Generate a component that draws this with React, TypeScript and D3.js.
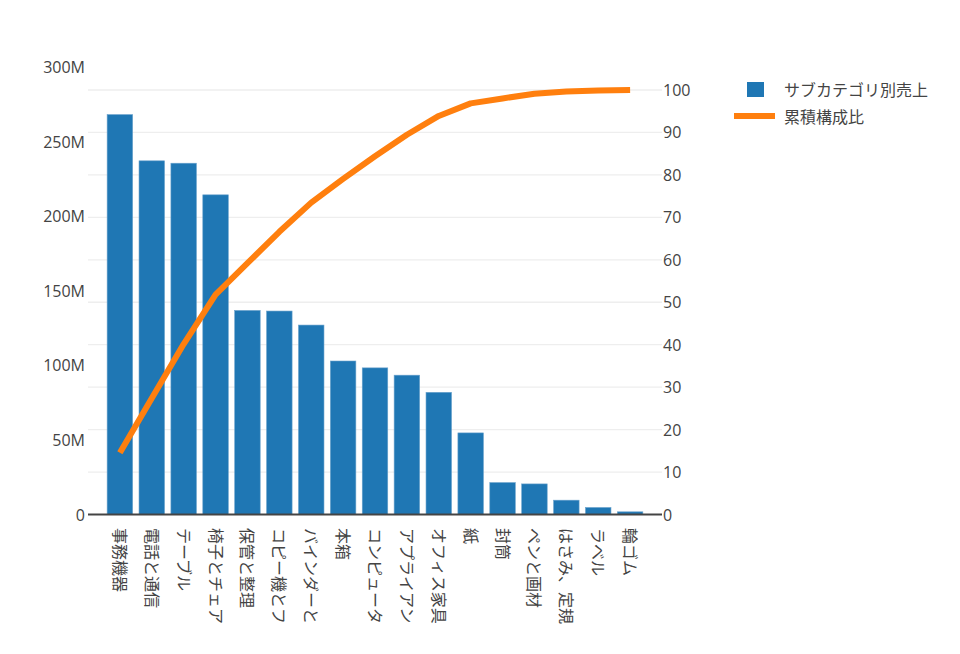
import React from "react";
import * as d3 from "d3";

const categories = [
  "事務機器", "電話と通信", "テーブル", "椅子とチェア", "保管と整理", "コピー機とフ",
  "バインダーと", "本箱", "コンピュータ", "アプライアン", "オフィス家具", "紙",
  "封筒", "ペンと画材", "はさみ、定規", "ラベル", "輪ゴム",
];
// sales in millions
const sales = [268.1, 237.1, 235.5, 214.3, 136.8, 136.4, 127.0, 102.9, 98.3, 93.4, 81.9, 54.7, 21.4, 20.5, 9.6, 4.7, 1.8];
const leftTicks = [0, 50, 100, 150, 200, 250, 300];
const rightTicks = [0, 10, 20, 30, 40, 50, 60, 70, 80, 90, 100];
const legendLabels = ["サブカテゴリ別売上", "累積構成比"];

const W = 960;
const H = 654;
const plotLeft = 88;
const plotRight = 662;
const FONT = "'Open Sans', 'Noto Sans CJK JP', sans-serif";
const TEXT = "#444";

export default function App() {
  const total = d3.sum(sales);
  const cumulative = d3.cumsum(sales).map((c) => (c / total) * 100);

  const x = d3.scaleLinear().domain([-1, 17]).range([plotLeft, plotRight]);
  const band = x(1) - x(0);
  const barW = band * 0.8;
  const yL = d3.scaleLinear().domain([0, 300]).range([514.5, 67]);
  const yR = d3.scaleLinear().domain([0, 100]).range([514.5, 90]);

  const line = d3
    .line<number>()
    .x((_, i) => x(i))
    .y((d) => yR(d));

  return (
    <svg
      width={W}
      height={H}
      style={{ position: "absolute", left: 0, top: 0, background: "#fff" }}
      fontFamily={FONT}
    >
      {/* gridlines */}
      {rightTicks.slice(1).map((t) => (
        <line key={"g" + t} x1={plotLeft} x2={plotRight} y1={yR(t)} y2={yR(t)} stroke="#eee" strokeWidth={1.3} />
      ))}
      {/* bars */}
      {sales.map((v, i) => (
        <rect
          key={"b" + i}
          x={x(i) - barW / 2}
          y={yL(v)}
          width={barW}
          height={yL(0) - yL(v)}
          fill="#1f77b4"
          stroke="#6aa2cc"
          strokeWidth={0.6}
        />
      ))}
      {/* zero line */}
      <line x1={plotLeft} x2={plotRight} y1={yL(0)} y2={yL(0)} stroke="#444" strokeWidth={2.2} />
      {/* cumulative line */}
      <path d={line(cumulative) || ""} fill="none" stroke="#ff7f0e" strokeWidth={6} strokeLinejoin="round" />
      {/* left axis labels */}
      {leftTicks.map((t) => (
        <text key={"l" + t} x={85} y={yL(t)} textAnchor="end" dominantBaseline="central" fontSize={16} fill={TEXT}>
          {t === 0 ? "0" : t + "M"}
        </text>
      ))}
      {/* right axis labels */}
      {rightTicks.map((t) => (
        <text key={"r" + t} x={663} y={yR(t)} textAnchor="start" dominantBaseline="central" fontSize={16} fill={TEXT}>
          {t}
        </text>
      ))}
      {/* x labels */}
      {categories.map((c, i) => (
        <text
          key={"x" + i}
          transform={`translate(${x(i)},${528}) rotate(90)`}
          textAnchor="start"
          dominantBaseline="central"
          fontSize={16}
          fill={TEXT}
        >
          {c}
        </text>
      ))}
      {/* legend */}
      <rect x={747} y={82} width={17} height={15} fill="#1f77b4" />
      <text x={784} y={90} dominantBaseline="central" fontSize={16} fill={TEXT}>
        {legendLabels[0]}
      </text>
      <line x1={734} x2={775} y1={116} y2={116} stroke="#ff7f0e" strokeWidth={6} />
      <text x={784} y={117} dominantBaseline="central" fontSize={16} fill={TEXT}>
        {legendLabels[1]}
      </text>
    </svg>
  );
}
